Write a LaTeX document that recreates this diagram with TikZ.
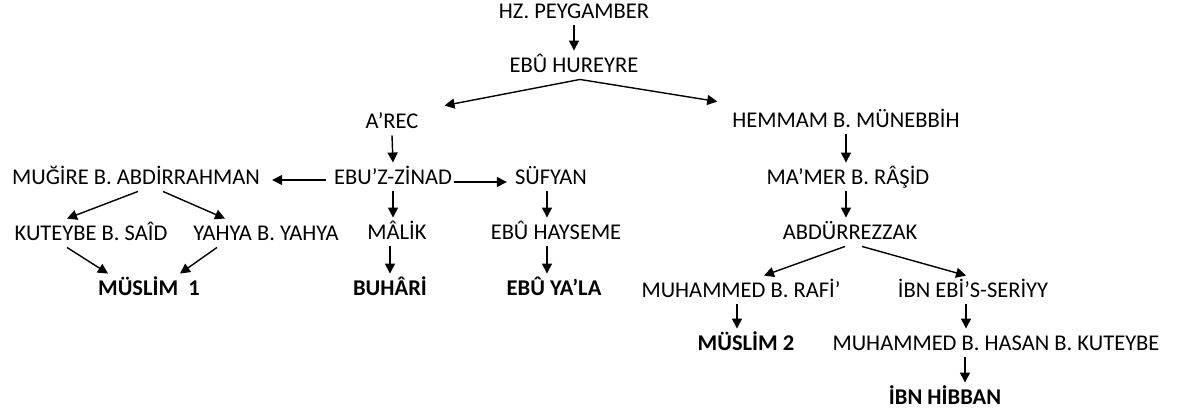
\documentclass[tikz,border=0pt]{standalone}
\usepackage{fontspec}
\setmainfont{Carlito}
\usetikzlibrary{arrows.meta}

\begin{document}
\begin{tikzpicture}[x=1pt, y=-1pt,
    narrator/.style={inner xsep=2pt, inner ysep=7pt, text height=14.5pt, text depth=0pt,
        font=\fontsize{22.5}{27}\selectfont},
    collection/.style={narrator, font=\fontsize{22.5}{27}\selectfont\bfseries},
    link/.style={-{Triangle[length=10pt,width=10pt]}, line width=1.4pt}]
    \useasboundingbox (0,0) rectangle (1181,414);
    % chain heads
    \node[narrator] (HZ) at (574,11) {HZ. PEYGAMBER};
    \node[narrator] (EH) at (574,65) {EBÛ HUREYRE};
    \node[narrator] (AR) at (392,121) {A’REC};
    \node[narrator] (HM) at (846,120) {HEMMAM B. MÜNEBBİH};
    % left branch
    \node[narrator] (MG) at (136,177) {MUĞİRE B. ABDİRRAHMAN};
    \node[narrator] (EZ) at (393,177) {EBU’Z-ZİNAD};
    \node[narrator] (SF) at (551,177) {SÜFYAN};
    \node[narrator] (KB) at (91,233) {KUTEYBE B. SAÎD};
    \node[narrator] (YY) at (266,233) {YAHYA B. YAHYA};
    \node[narrator] (MK) at (397,232) {MÂLİK};
    \node[narrator] (HY) at (556,232) {EBÛ HAYSEME};
    \node[collection] (M1) at (149,288) {MÜSLİM\ \ 1};
    \node[collection] (BH) at (390,288) {BUHÂRİ};
    \node[collection] (YL) at (554,288) {EBÛ YA’LA};
    % right branch
    \node[narrator] (MR) at (848,177) {MA’MER B. RÂŞİD};
    \node[narrator] (AB) at (850,232) {ABDÜRREZZAK};
    \node[narrator] (RF) at (741,290) {MUHAMMED B. RAFİ’};
    \node[narrator] (IE) at (973,290) {İBN EBİ’S-SERİYY};
    \node[collection] (M2) at (746,343) {MÜSLİM 2};
    \node[narrator] (MH) at (996,343) {MUHAMMED B. HASAN B. KUTEYBE};
    \node[collection] (IH) at (945,397) {İBN HİBBAN};

    \draw[link] (HZ.south) -- (EH.south |- EH.north);
    \draw[link] ([xshift=6pt]EH.south) -- ([xshift=24pt, yshift=1pt]AR.north east);
    \draw[link] ([xshift=6pt]EH.south) -- ([xshift=-13pt, yshift=4pt]HM.north west);
    \draw[link] (AR.south) -- (EZ.north);
    \draw[link] ([xshift=-6pt, yshift=-3pt]EZ.west) -- ([xshift=10pt, yshift=-3pt]MG.east);
    \draw[link] ([yshift=-5pt]EZ.east) -- ([xshift=-6pt, yshift=-5pt]SF.west);
    \draw[link] (EZ.south) -- (EZ.south |- MK.north);
    \draw[link] (MK.south -| BH.north) -- (BH.north);
    \draw[link] ([xshift=-4pt]SF.south) -- ([xshift=-4pt]SF.south |- HY.north);
    \draw[link] ([xshift=-4pt]SF.south |- HY.south) -- ([xshift=-4pt]SF.south |- YL.north);
    \draw[link] ([xshift=2pt]MG.south) -- ([xshift=-24pt]KB.north);
    \draw[link] ([xshift=27pt]MG.south) -- ([xshift=-41pt]YY.north);
    \draw[link] ([xshift=-24pt]KB.south) -- ([xshift=-41pt]M1.north);
    \draw[link] ([xshift=-49pt]YY.south) -- ([xshift=31pt]M1.north);
    \draw[link] (HM.south) -- (HM.south |- MR.north);
    \draw[link] (HM.south |- MR.south) -- (HM.south |- AB.north);
    \draw[link] ([xshift=-5pt]AB.south) -- ([xshift=23pt]RF.north);
    \draw[link] ([xshift=12pt]AB.south) -- ([xshift=-7pt]IE.north);
    \draw[link] ([xshift=-4pt]RF.south) -- ([xshift=-4pt]RF.south |- M2.north);
    \draw[link] ([xshift=-7pt]IE.south) -- ([xshift=-7pt]IE.south |- MH.north);
    \draw[link] ([xshift=20pt]IH.north |- MH.south) -- ([xshift=20pt]IH.north);
\end{tikzpicture}
\end{document}
